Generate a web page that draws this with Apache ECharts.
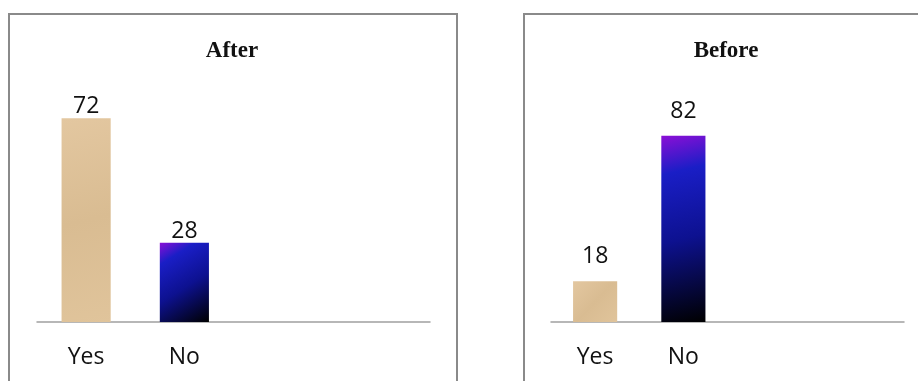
<!DOCTYPE html>
<html>
<head>
<meta charset="utf-8">
<script src="https://cdn.jsdelivr.net/npm/echarts@6/dist/echarts.min.js"></script>
<style>
  html, body { margin: 0; padding: 0; background: #fff; }
  #chart { width: 918px; height: 381px; }
</style>
</head>
<body>
<div id="chart"></div>
<script>
// Survey answers, shown as two side-by-side panels
const categories = ['Yes', 'No', '', ''];
const afterValues = [72, 28];
const beforeValues = [18, 82];
const panelTitles = ['After', 'Before'];

const chart = echarts.init(document.getElementById('chart'));

// Sandy fill for "Yes", purple-blue-black sheen for "No"
const sandFill = new echarts.graphic.LinearGradient(0, 0, 1, 1, [
  { offset: 0, color: '#e3c7a0' },
  { offset: 0.5, color: '#d9bc92' },
  { offset: 1, color: '#e0c49b' }
]);
const inkFill = new echarts.graphic.LinearGradient(0, 0, 1, 1, [
  { offset: 0, color: '#8a0fd6' },
  { offset: 0.2, color: '#1a1ec6' },
  { offset: 0.55, color: '#0d1190' },
  { offset: 1, color: '#000000' }
]);
const barColors = [sandFill, inkFill];

const labelFont = '"Open Sans", "Noto Sans", sans-serif';

function barSeries(values, axisIndex, labelGap) {
  return {
    type: 'bar',
    xAxisIndex: axisIndex,
    yAxisIndex: axisIndex,
    barWidth: '50%',
    data: values.map((v, i) => ({ value: v, itemStyle: { color: barColors[i] } })),
    label: {
      show: true,
      position: 'top',
      distance: labelGap,
      color: '#111',
      fontSize: 23,
      fontFamily: labelFont
    },
    animation: false
  };
}

function catAxis(gridIndex) {
  return {
    type: 'category',
    gridIndex: gridIndex,
    data: categories,
    axisLine: { lineStyle: { color: '#a0a0a0', width: 1.5 } },
    axisTick: { show: false },
    axisLabel: { color: '#111', fontSize: 23, fontFamily: labelFont, margin: 24 }
  };
}

function valAxis(gridIndex) {
  return {
    type: 'value',
    gridIndex: gridIndex,
    min: 0,
    max: 100,
    show: false,
    splitLine: { show: false }
  };
}

const titleStyle = {
  fontFamily: '"Liberation Serif", "Times New Roman", serif',
  fontWeight: 'bold',
  fontSize: 23,
  color: '#111'
};

chart.setOption({
  backgroundColor: '#fff',
  title: [
    { text: panelTitles[0], left: 227, top: 35, textAlign: 'center', textStyle: titleStyle },
    { text: panelTitles[1], left: 721, top: 35, textAlign: 'center', textStyle: titleStyle }
  ],
  graphic: [
    { type: 'rect', shape: { x: 9, y: 14, width: 448, height: 420 },
      style: { fill: 'none', stroke: '#8a8a8a', lineWidth: 2 }, silent: true },
    { type: 'rect', shape: { x: 524, y: 14, width: 420, height: 420 },
      style: { fill: 'none', stroke: '#8a8a8a', lineWidth: 2 }, silent: true }
  ],
  grid: [
    { left: 37, right: 488, top: 39, bottom: 59 },
    { left: 551, right: 14, top: 95, bottom: 59 }
  ],
  xAxis: [catAxis(0), catAxis(1)],
  yAxis: [valAxis(0), valAxis(1)],
  series: [barSeries(afterValues, 0, 0), barSeries(beforeValues, 1, 13)]
});
</script>
</body>
</html>
